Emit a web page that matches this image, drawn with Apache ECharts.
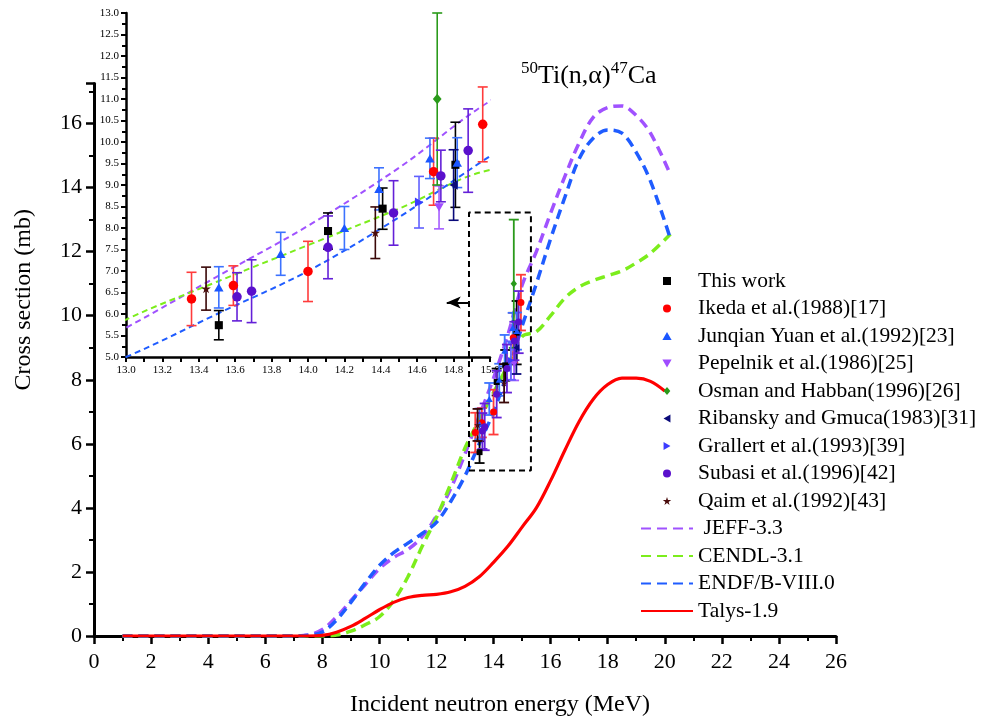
<!DOCTYPE html>
<html><head><meta charset="utf-8">
<script src="https://cdn.jsdelivr.net/npm/echarts@6/dist/echarts.min.js"></script>
<style>html,body{margin:0;padding:0;background:#fff}#c{width:983px;height:722px}</style>
</head><body><div id="c"></div>
<script>
// ---------- experimental data (E in MeV, cross section in mb, uncertainty) ----------
const thisWorkE = [13.51, 14.11, 14.41, 14.81];
const thisWorkS = [5.74, 7.93, 8.45, 9.47];
const thisWorkErr = [0.34, 0.42, 0.48, 0.99];

const ikedaE = [13.36, 13.59, 14.00, 14.69, 14.96];
const ikedaS = [6.35, 6.66, 6.99, 9.31, 10.41];
const ikedaErr = [0.62, 0.46, 0.70, 0.78, 0.87];

const yuanE = [13.51, 13.85, 14.20, 14.39, 14.67, 14.82];
const yuanS = [6.62, 7.40, 8.00, 8.91, 9.62, 9.52];
const yuanErr = [0.48, 0.50, 0.50, 0.49, 0.47, 0.58];

const pepelnikE = [14.72];
const pepelnikS = [8.48];
const pepelnikErr = [0.50];

const osmanE = [14.71];
const osmanS = [11.00];
const osmanErr = [2.00];

const ribanskyE = [14.80];
const ribanskyS = [9.00];
const ribanskyErr = [0.82];

const grallertE = [14.61];
const grallertS = [8.60];
const grallertErr = [0.60];

const subasiE = [13.61, 13.69, 14.11, 14.47, 14.73, 14.88];
const subasiS = [6.40, 6.53, 7.55, 8.35, 9.21, 9.80];
const subasiErr = [0.56, 0.73, 0.73, 0.75, 0.60, 0.97];

const qaimE = [13.44, 14.37];
const qaimS = [6.59, 7.89];
const qaimErr = [0.50, 0.60];

// ---------- evaluated / calculated curves ----------
const jeffE = [1, 7.0, 7.5, 8.0, 8.5, 9.0, 9.5, 10.0, 10.5, 11.0, 11.5, 12.0, 12.5, 13.0, 13.5, 14.0, 14.5, 15.0, 15.5, 16.0, 16.5, 17.0, 17.5, 18.0, 18.5, 19.0, 19.5, 20.2];
const jeffS = [0, 0, 0.03, 0.2, 0.6, 1.1, 1.6, 2.1, 2.45, 2.7, 3.1, 3.75, 4.6, 5.68, 6.87, 8.05, 9.4, 10.95, 12.0, 13.2, 14.35, 15.4, 16.2, 16.5, 16.55, 16.25, 15.7, 14.4];

const cendlE = [1, 7.5, 8.0, 8.5, 9.0, 9.5, 10.0, 10.5, 11.0, 11.5, 12.0, 12.5, 13.0, 13.5, 14.0, 14.5, 15.0, 15.5, 16.0, 16.5, 17.0, 17.5, 18.0, 18.5, 19.0, 19.5, 20.2];
const cendlS = [0, 0, 0, 0.03, 0.15, 0.35, 0.6, 1.1, 1.85, 2.8, 3.7, 4.75, 5.87, 6.75, 7.6, 8.45, 9.35, 9.5, 10.0, 10.55, 10.9, 11.1, 11.25, 11.4, 11.65, 11.95, 12.55];

const endfE = [1, 7.0, 7.5, 8.0, 8.5, 9.0, 9.5, 10.0, 10.5, 11.0, 11.5, 12.0, 12.5, 13.0, 13.5, 14.0, 14.5, 15.0, 15.5, 16.0, 16.5, 17.0, 17.5, 18.0, 18.5, 19.0, 19.5, 20.2];
const endfS = [0, 0, 0.02, 0.12, 0.5, 1.05, 1.65, 2.2, 2.6, 2.9, 3.2, 3.55, 4.2, 5.0, 6.0, 7.0, 8.25, 9.67, 11.0, 12.4, 13.7, 14.9, 15.55, 15.8, 15.7, 15.1, 14.2, 12.4];

const talysE = [1, 7.0, 7.5, 8.0, 8.5, 9.0, 9.5, 10.0, 10.5, 11.0, 11.5, 12.0, 12.5, 13.0, 13.5, 14.0, 14.5, 15.0, 15.5, 16.0, 16.5, 17.0, 17.5, 18.0, 18.5, 19.0, 19.5, 20.0];
const talysS = [0, 0, 0, 0.02, 0.12, 0.3, 0.55, 0.82, 1.05, 1.2, 1.27, 1.3, 1.38, 1.55, 1.85, 2.3, 2.8, 3.4, 4.0, 4.85, 5.8, 6.7, 7.4, 7.85, 8.05, 8.05, 7.95, 7.65];

// zoom box and arrow (data coordinates of the main plot)
const boxE = [13.14, 15.31];
const boxS = [5.17, 13.22];
const arrowE = [13.14, 12.36];
const arrowS = 10.41;

// ---------- styling ----------
const FONT = 'Liberation Serif';
const SYM = {
  down: 'path://M0,0 L10,0 L5,8.66 Z',
  left: 'path://M8.66,0 L8.66,10 L0,5 Z',
  right: 'path://M0,0 L8.66,5 L0,10 Z',
  star: 'path://M50,0 L61.8,36.2 L100,36.2 L69.1,58.6 L80.9,95.1 L50,72.7 L19.1,95.1 L30.9,58.6 L0,36.2 L38.2,36.2 Z',
  tri: 'path://M5,0 L10,8.66 L0,8.66 Z',
  diamond: 'path://M5,0 L10,6 L5,12 L0,6 Z',
  square: 'path://M0,0 L10,0 L10,10 L0,10 Z'
};

const expSets = [
  {name: 'This work', E: thisWorkE, S: thisWorkS, err: thisWorkErr, symbol: SYM.square, color: '#000000', bar: '#000000', k: 0.85},
  {name: 'Ikeda et al.(1988)[17]', E: ikedaE, S: ikedaS, err: ikedaErr, symbol: 'circle', color: '#ff0000', bar: '#ff3b3b', k: 1},
  {name: 'Junqian Yuan et al.(1992)[23]', E: yuanE, S: yuanS, err: yuanErr, symbol: SYM.tri, color: '#1a56ff', bar: '#3c72ff', k: 1},
  {name: 'Pepelnik et al.(1986)[25]', E: pepelnikE, S: pepelnikS, err: pepelnikErr, symbol: SYM.down, color: '#a04cff', bar: '#a55cff', k: 1},
  {name: 'Osman and Habban(1996)[26]', E: osmanE, S: osmanS, err: osmanErr, symbol: SYM.diamond, color: '#2a9a1a', bar: '#2a9a1a', k: 1.1},
  {name: 'Ribansky and Gmuca(1983)[31]', E: ribanskyE, S: ribanskyS, err: ribanskyErr, symbol: SYM.left, color: '#0a0a7a', bar: '#0a0a7a', k: 1},
  {name: 'Grallert et al.(1993)[39]', E: grallertE, S: grallertS, err: grallertErr, symbol: SYM.right, color: '#3b3bff', bar: '#6060ff', k: 1},
  {name: 'Subasi et al.(1996)[42]', E: subasiE, S: subasiS, err: subasiErr, symbol: 'circle', color: '#5a10cc', bar: '#6420d8', k: 1},
  {name: 'Qaim et al.(1992)[43]', E: qaimE, S: qaimS, err: qaimErr, symbol: SYM.star, color: '#4a0c0c', bar: '#3a0808', k: 1}
];

const curveSets = [
  {name: ' JEFF-3.3', E: jeffE, S: jeffS, color: '#a052ff', type: 'dashed', inset: true},
  {name: 'CENDL-3.1', E: cendlE, S: cendlS, color: '#7ced1c', type: 'dashed', inset: true},
  {name: 'ENDF/B-VIII.0', E: endfE, S: endfS, color: '#1f5cff', type: 'dashed', inset: true},
  {name: 'Talys-1.9', E: talysE, S: talysS, color: '#ff0000', type: 'solid', inset: false}
];

function zip(a, b, c) { return a.map((v, i) => c ? [v, b[i], c[i]] : [v, b[i]]); }

function errRender(capW, lw, color) {
  return function (params, api) {
    const x = api.value(0), y = api.value(1), e = api.value(2);
    const p1 = api.coord([x, y + e]), p2 = api.coord([x, y - e]);
    const st = {stroke: color, lineWidth: lw};
    return {type: 'group', children: [
      {type: 'line', shape: {x1: p1[0], y1: p1[1], x2: p2[0], y2: p2[1]}, style: st},
      {type: 'line', shape: {x1: p1[0] - capW / 2, y1: p1[1], x2: p1[0] + capW / 2, y2: p1[1]}, style: st},
      {type: 'line', shape: {x1: p2[0] - capW / 2, y1: p2[1], x2: p2[0] + capW / 2, y2: p2[1]}, style: st}
    ]};
  };
}

const series = [];
// main curves
curveSets.forEach(c => {
  series.push({
    name: c.name, type: 'line', xAxisIndex: 0, yAxisIndex: 0, data: zip(c.E, c.S),
    smooth: 0.35, symbol: 'none', showSymbol: false, z: 2,
    lineStyle: {color: c.color, width: c.type === 'solid' ? 3.2 : 3.5, type: c.type === 'solid' ? 'solid' : [10, 6]},
    itemStyle: {color: c.color}
  });
});
// main experimental
expSets.forEach(s => {
  series.push({
    name: s.name, type: 'scatter', xAxisIndex: 0, yAxisIndex: 0, data: zip(s.E, s.S),
    symbol: s.symbol, symbolKeepAspect: true, symbolSize: 7 * s.k, itemStyle: {color: s.color, opacity: 1}, z: 5
  });
  series.push({
    name: '_err_main_' + s.name, type: 'custom', xAxisIndex: 0, yAxisIndex: 0,
    data: zip(s.E, s.S, s.err), encode: {x: 0, y: 1}, renderItem: errRender(10, 1.8, s.bar), z: 4, silent: true
  });
});
// inset curves
curveSets.filter(c => c.inset).forEach(c => {
  series.push({
    name: c.name, type: 'line', xAxisIndex: 1, yAxisIndex: 1, data: zip(c.E, c.S),
    smooth: 0.35, symbol: 'none', showSymbol: false, clip: true, z: 2,
    lineStyle: {color: c.color, width: 2, type: [6, 4]}, itemStyle: {color: c.color}
  });
});
// inset experimental
expSets.forEach(s => {
  series.push({
    name: s.name, type: 'scatter', xAxisIndex: 1, yAxisIndex: 1, data: zip(s.E, s.S),
    symbol: s.symbol, symbolKeepAspect: true, symbolSize: 9.5 * s.k, itemStyle: {color: s.color, opacity: 1}, z: 5
  });
  series.push({
    name: '_err_inset_' + s.name, type: 'custom', xAxisIndex: 1, yAxisIndex: 1,
    data: zip(s.E, s.S, s.err), encode: {x: 0, y: 1}, renderItem: errRender(10, 1.6, s.bar), z: 4, silent: true
  });
});
// zoom box + arrow
series.push({
  name: '_box', type: 'line', xAxisIndex: 0, yAxisIndex: 0, symbol: 'none', silent: true, z: 3,
  data: [[boxE[0], boxS[0]], [boxE[1], boxS[0]], [boxE[1], boxS[1]], [boxE[0], boxS[1]], [boxE[0], boxS[0]]],
  lineStyle: {color: '#000', width: 2, type: [6, 4]},
  markLine: {
    silent: true, symbol: ['none', 'arrow'], symbolSize: [9, 14], label: {show: false},
    lineStyle: {color: '#000', width: 2, type: 'solid'},
    data: [[{coord: [arrowE[0], arrowS]}, {coord: [arrowE[1], arrowS]}]]
  }
});

const legendData = expSets.map(s => ({name: s.name}))
  .concat(curveSets.map(c => ({name: c.name, itemStyle: {opacity: 0}})));

const option = {
  animation: false,
  backgroundColor: '#fff',
  title: {
    left: 516, top: 55,
    text: '{s|50}{m|Ti(n,α)}{s|47}{m|Ca}',
    textStyle: {
      fontWeight: 'normal',
      rich: {
        s: {fontFamily: FONT, fontSize: 17, fontWeight: 'normal', color: '#000', verticalAlign: 'top', lineHeight: 32, padding: [0, 0, 13, 0]},
        m: {fontFamily: FONT, fontSize: 26, fontWeight: 'normal', color: '#000', lineHeight: 32}
      }
    }
  },
  legend: {
    orient: 'vertical', left: 635, top: 265,
    itemWidth: 52, itemHeight: 8, itemGap: 5.5,
    data: legendData,
    textStyle: {fontFamily: FONT, fontSize: 21.5, color: '#000', lineHeight: 22},
    selectedMode: false
  },
  grid: [
    {left: 94, right: 147, top: 83.5, bottom: 85},
    {left: 126, top: 13, width: 364, height: 344}
  ],
  xAxis: [
    {
      type: 'value', gridIndex: 0, min: 0, max: 26, interval: 2,
      name: 'Incident neutron energy (MeV)', nameLocation: 'middle', nameGap: 57,
      nameTextStyle: {color: '#000', fontFamily: FONT, fontSize: 24, padding: [0, 0, 0, 70]},
      axisLine: {show: true, onZero: false, lineStyle: {color: '#000', width: 3}},
      splitLine: {show: false},
      axisTick: {show: true, inside: false, length: 8, lineStyle: {color: '#000', width: 2.5}},
      minorTick: {show: true, splitNumber: 2, length: 5, lineStyle: {color: '#000', width: 2}},
      axisLabel: {color: '#000', fontFamily: FONT, fontSize: 22, margin: 15}
    },
    {
      type: 'value', gridIndex: 1, min: 13, max: 15, interval: 0.2,
      axisLine: {show: true, onZero: false, lineStyle: {color: '#000', width: 2.5}},
      splitLine: {show: false},
      axisTick: {show: true, inside: false, length: 5, lineStyle: {color: '#000', width: 2}},
      minorTick: {show: true, splitNumber: 2, length: 5, lineStyle: {color: '#000', width: 2}},
      axisLabel: {color: '#000', fontFamily: FONT, fontSize: 11, margin: 8, formatter: v => v.toFixed(1)}
    }
  ],
  yAxis: [
    {
      type: 'value', gridIndex: 0, min: 0, max: 17.25, interval: 2,
      name: 'Cross section (mb)', nameLocation: 'middle', nameGap: 58, nameRotate: 90,
      nameTextStyle: {color: '#000', fontFamily: FONT, fontSize: 24, padding: [0, 0, 0, 120]},
      axisLine: {show: true, onZero: false, lineStyle: {color: '#000', width: 3}},
      splitLine: {show: false},
      axisTick: {show: true, inside: false, length: 8, lineStyle: {color: '#000', width: 2.5}},
      minorTick: {show: true, splitNumber: 2, length: 5, lineStyle: {color: '#000', width: 2}},
      axisLabel: {color: '#000', fontFamily: FONT, fontSize: 22, margin: 12, showMaxLabel: false}
    },
    {
      type: 'value', gridIndex: 1, min: 5, max: 13, interval: 0.5,
      axisLine: {show: true, onZero: false, lineStyle: {color: '#000', width: 2.5}},
      splitLine: {show: false},
      axisTick: {show: true, inside: false, length: 5, lineStyle: {color: '#000', width: 2}},
      minorTick: {show: true, splitNumber: 2, length: 4, lineStyle: {color: '#000', width: 2}},
      axisLabel: {color: '#000', fontFamily: FONT, fontSize: 11, margin: 7, formatter: v => v.toFixed(1)}
    }
  ],
  series: series
};

const chart = echarts.init(document.getElementById('c'), null, {renderer: 'canvas'});
chart.setOption(option);
</script></body></html>
